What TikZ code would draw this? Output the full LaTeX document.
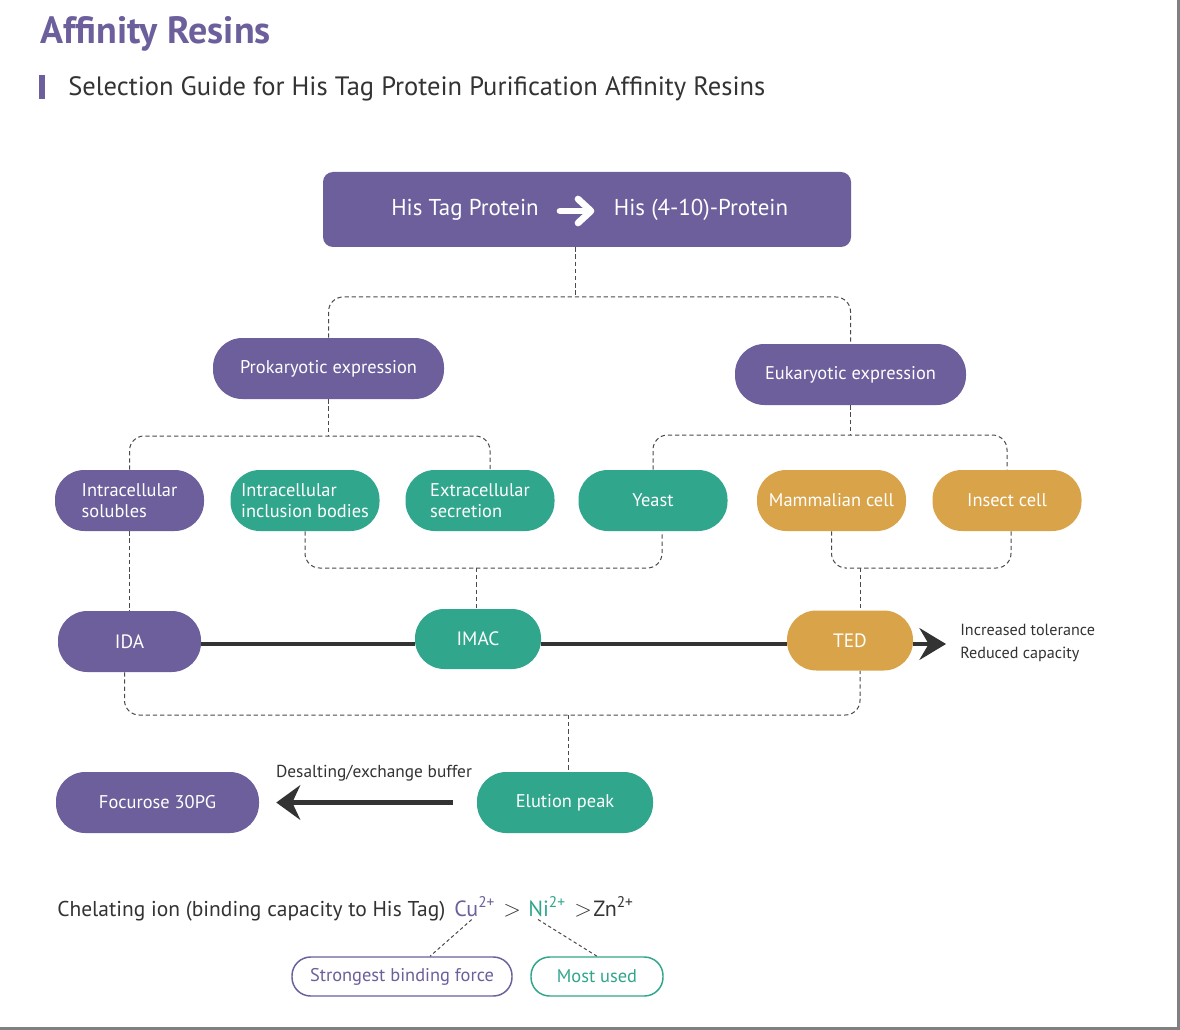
\documentclass[tikz,border=0pt]{standalone}
\usepackage{fontspec}
\setmainfont{PT Sans}
\usetikzlibrary{arrows.meta,calc}
\definecolor{respurple}{HTML}{6C5F9C}
\definecolor{resteal}{HTML}{30A68C}
\definecolor{resorange}{HTML}{D9A349}
\definecolor{resdark}{HTML}{333333}
\definecolor{reslink}{HTML}{4A4A4A}
\tikzset{
  pill/.style={rectangle,rounded corners=22pt,minimum height=45.75pt,inner sep=0pt,
    text=white,font=\fontsize{13.8}{15.5}\selectfont,align=left},
  purplepill/.style={pill,fill=respurple},
  tealpill/.style={pill,fill=resteal},
  orangepill/.style={pill,fill=resorange},
  outlinepill/.style={rectangle,rounded corners=14pt,minimum height=29.25pt,inner sep=0pt,
    line width=1.1pt,fill=white,font=\fontsize{13.8}{15}\selectfont},
  link/.style={draw=reslink,line width=0.75pt,dash pattern=on 3.2pt off 2.2pt,rounded corners=11pt},
  bond/.style={draw=resdark,line width=2.4pt},
  label/.style={text=resdark,inner sep=0pt},
}
\begin{document}
\begin{tikzpicture}[x=0.75pt,y=-0.75pt]
\useasboundingbox (0,0) rectangle (1180,1030);
\fill[white] (0,0) rectangle (1180,1030);
\draw[gray,line width=2.25pt] (1178.5,0) -- (1178.5,1028.5) -- (0,1028.5);
% heading
\node[anchor=base west,inner sep=0pt,text=respurple,font=\fontsize{28.5}{32}\selectfont\bfseries] (title) at (40,44) {Affinity Resins};
\fill[respurple] (39,75) rectangle (45,99);
\node[label,anchor=base west,font=\fontsize{19.9}{23}\selectfont] (subtitle) at (68,96) {Selection Guide for His Tag Protein Purification Affinity Resins};
% top box
\node[rectangle,rounded corners=7.5pt,fill=respurple,minimum width=396pt,minimum height=56.25pt] (top) at (587,209.5) {};
\node[text=white,inner sep=0pt,font=\fontsize{17.2}{19}\selectfont] (tagold) at (465,210) {His Tag Protein};
\node[text=white,inner sep=0pt,font=\fontsize{17.2}{19}\selectfont] (tagnew) at (701,210) {His (4-10)-Protein};
\draw[white,line width=5pt,line cap=round,line join=round] (560,211) -- (585,211);
\draw[white,line width=5pt,line cap=round,line join=round] (578,199) -- (591,211) -- (578,223);
% expression
\node[purplepill,minimum width=173.25pt] (pro) at (328.5,368.5) {Prokaryotic expression};
\node[purplepill,minimum width=173.25pt] (euk) at (850.5,374.5) {Eukaryotic expression};
% hosts
\node[purplepill,minimum width=111.75pt] (sol) at (129.5,500.5) {Intracellular\\solubles};
\node[tealpill,minimum width=111.75pt] (incl) at (305,500.5) {Intracellular\\inclusion bodies};
\node[tealpill,minimum width=111.75pt] (ext) at (480,500.5) {Extracellular\\secretion};
\node[tealpill,minimum width=111.75pt] (yeast) at (653,500.5) {Yeast};
\node[orangepill,minimum width=111.75pt] (mam) at (831.5,500.5) {Mammalian cell};
\node[orangepill,minimum width=111.75pt] (ins) at (1007,500.5) {Insect cell};
% resins
\node[purplepill,minimum width=107.25pt,font=\fontsize{14.5}{16}\selectfont] (ida) at (129.5,641.5) {IDA};
\node[tealpill,minimum width=94.5pt,minimum height=45pt,font=\fontsize{14.5}{16}\selectfont] (imac) at (478,639) {IMAC};
\node[orangepill,minimum width=94.5pt,minimum height=45pt,font=\fontsize{14.5}{16}\selectfont] (ted) at (850,640.5) {TED};
\node[purplepill,minimum width=152.25pt] (foc) at (157.5,802.5) {Focurose 30PG};
\node[tealpill,minimum width=132pt] (elu) at (565,802.5) {Elution peak};
% junctions
\coordinate (j1) at (575,297);
\coordinate (j2) at (328.5,436);
\coordinate (j3) at (850.5,435);
\coordinate (j4) at (476,568);
\coordinate (j5) at (860,568);
\coordinate (j6) at (568,715);
% dashed tree
\draw[link] (j1 |- top.south) -- (j1);
\draw[link] (pro.north) |- (j1) -| (euk.north);
\draw[link] (pro.south) -- (j2);
\draw[link] (sol.north) |- (j2) -| ($(ext.north)+(10,0)$);
\draw[link] (euk.south) -- (j3);
\draw[link] (yeast.north) |- (j3) -| (ins.north);
\draw[link] (sol.south) -- (ida.north);
\draw[link] (incl.south) |- (j4) -| ($(yeast.south)+(9,0)$);
\draw[link] (j4) -- (j4 |- imac.north);
\draw[link] (mam.south) |- (j5) -| ($(ins.south)+(4,0)$);
\draw[link] (j5) -- (j5 |- ted.north);
\draw[link] ($(ida.south)+(-5,0)$) |- (j6) -| ($(ted.south)+(10,0)$);
\draw[link] (j6) -- (j6 |- elu.north);
% solid links
\draw[bond] (ida.east |- 0,644) -- (imac.west |- 0,644);
\draw[bond] (imac.east |- 0,644) -- (ted.west |- 0,644);
\draw[bond,-{Stealth[length=20pt,width=24pt,inset=7pt]}] (ted.east |- 0,644) -- (946,644);
\node[label,anchor=west,align=left,font=\fontsize{12.1}{17}\selectfont] (info) at (960,643) {Increased tolerance\\Reduced capacity};
\draw[bond,line width=3.6pt,-{Stealth[length=18pt,width=26pt,inset=6pt]}] ($(elu.west)+(-24,0)$) -- ($(foc.east)+(17,0)$);
\node[label,font=\fontsize{13}{14}\selectfont] (buffer) at (374,773) {Desalting/exchange buffer};
% chelating ions
\node[label,anchor=base west,font=\fontsize{16.1}{18}\selectfont] (chel) at (57,916) {Chelating ion (binding capacity to His Tag)};
\node[label,anchor=base west,text=respurple,font=\fontsize{16.5}{18}\selectfont] (cu) at (454,916) {Cu\textsuperscript{2+}};
\node[label,anchor=base west,font=\fontsize{16.5}{18}\selectfont] (gtone) at (503,916) {$>$};
\node[label,anchor=base west,text=resteal,font=\fontsize{16.5}{18}\selectfont] (ni) at (528,916) {Ni\textsuperscript{2+}};
\node[label,anchor=base west,font=\fontsize{16.5}{18}\selectfont] (gttwo) at (574,916) {$>$};
\node[label,anchor=base west,font=\fontsize{16.5}{18}\selectfont] (zn) at (593,916) {Zn\textsuperscript{2+}};
\node[outlinepill,draw=respurple,text=respurple,minimum width=165pt] (strong) at (402,976.5) {Strongest binding force};
\node[outlinepill,draw=resteal,text=resteal,minimum width=99pt] (most) at (597,976.5) {Most used};
\draw[link,dash pattern=on 2.5pt off 2pt] ($(cu.south)+(-3,3)$) -- ($(strong.north)+(28,0)$);
\draw[link,dash pattern=on 2.5pt off 2pt] ($(ni.south)+(-9,3)$) -- (most.north);
\end{tikzpicture}
\end{document}
